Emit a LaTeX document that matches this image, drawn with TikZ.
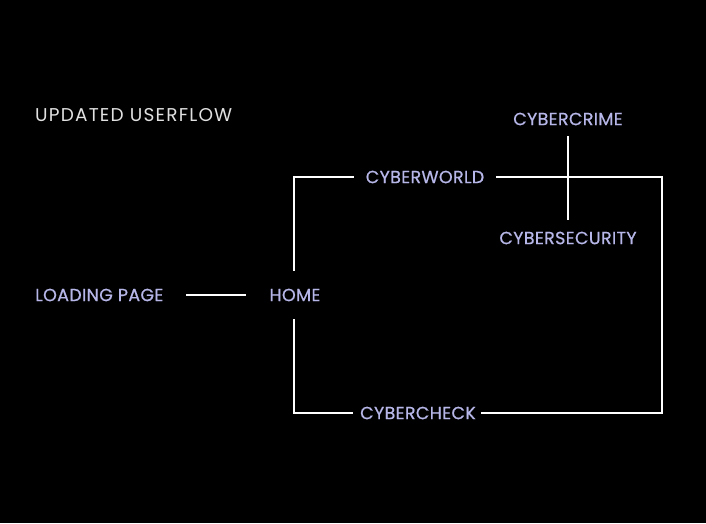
\documentclass[tikz,border=0pt]{standalone}
\usepackage{fontspec}
\setmainfont{Poppins}
\begin{document}
\begin{tikzpicture}[x=1pt,y=-1pt,
  lbl/.style={text=lav,inner sep=0pt,font=\fontsize{17.6}{18}\selectfont\addfontfeatures{LetterSpace=1.5,FakeBold=0.6}},
  ttl/.style={text=ttlc,inner sep=0pt,font=\fontsize{18.5}{18}\selectfont\addfontfeatures{LetterSpace=6.5}},
  wire/.style={draw=white,line width=2.8pt}]
\definecolor{lav}{RGB}{182,182,232}
\definecolor{ttlc}{RGB}{225,225,225}
\fill[black] (0,0) rectangle (706,523);
\useasboundingbox (0,0) rectangle (706,523);
\node[ttl,anchor=west] (title) at (35,115) {UPDATED USERFLOW};
\node[lbl,anchor=west] (load) at (35,295) {LOADING PAGE};
\node[lbl] (home) at (295,295) {HOME};
\node[lbl] (world) at (425,177) {CYBERWORLD};
\node[lbl] (check) at (418,413) {CYBERCHECK};
\node[lbl] (crime) at (568,119) {CYBERCRIME};
\node[lbl] (sec) at (568,238) {CYBERSECURITY};
\coordinate (tl) at (294,177);
\coordinate (tr) at (662,177);
\coordinate (br) at (662,413);
\coordinate (bl) at (294,413);
\draw[wire] (load.east -| 186,0) -- (home.west -| 246,0);
\draw[wire] ([yshift=18pt]home.north -| tl) -- (tl) -- (world.west -| 354,0);
\draw[wire] (world.east -| 496,0) -- (tr) -- (br) -- (check.east -| 481,0);
\draw[wire] ([yshift=-18pt]home.south -| bl) -- (bl) -- (check.west -| 353,0);
\draw[wire] ([yshift=-11pt]crime.south) -- ([yshift=12pt]sec.north);
\end{tikzpicture}
\end{document}
